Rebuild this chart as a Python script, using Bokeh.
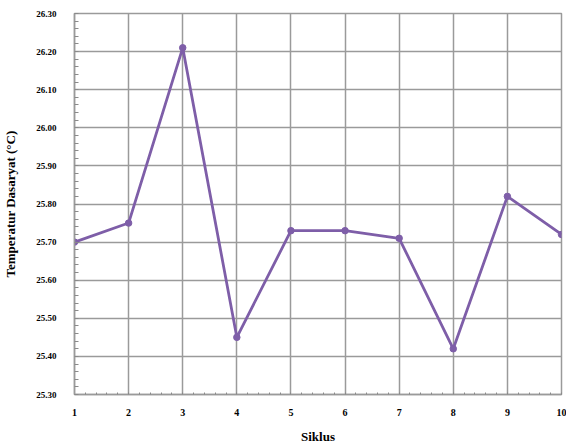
from bokeh.plotting import figure
from bokeh.models import FixedTicker, NumeralTickFormatter, Range1d, ColumnDataSource
from bokeh.embed import file_html
from bokeh.resources import INLINE

siklus = [1, 2, 3, 4, 5, 6, 7, 8, 9, 10]
temperatur = [25.70, 25.75, 26.21, 25.45, 25.73, 25.73, 25.71, 25.42, 25.82, 25.72]
y_ticks = [25.30, 25.40, 25.50, 25.60, 25.70, 25.80, 25.90, 26.00, 26.10, 26.20, 26.30]
y_minor = [round(25.30 + 0.02 * i, 2) for i in range(51)]
x_minor = [round(1 + 0.2 * i, 1) for i in range(46)]

src = ColumnDataSource(dict(x=siklus, y=temperatur))

p = figure(width=566, height=446, output_backend="svg", toolbar_location=None,
           x_range=Range1d(1, 10), y_range=Range1d(25.30, 26.30),
           min_border_left=4, min_border_right=5, min_border_top=13, min_border_bottom=4)

line_color = "#7e5ea8"
p.line("x", "y", source=src, line_color=line_color, line_width=2.8)
p.scatter("x", "y", source=src, size=6.5, fill_color=line_color, line_color=line_color)

font = "Liberation Serif"
grid_color = "#9a9a9a"

p.xaxis.ticker = FixedTicker(ticks=siklus, minor_ticks=x_minor)
p.yaxis.ticker = FixedTicker(ticks=y_ticks, minor_ticks=y_minor)
p.yaxis.formatter = NumeralTickFormatter(format="0.00")

for ax in (p.xaxis, p.yaxis):
    ax.axis_line_color = grid_color
    ax.axis_line_width = 1.5
    ax.major_tick_line_color = None
    ax.minor_tick_in = 4
    ax.minor_tick_out = 0
    ax.minor_tick_line_color = "#8a8a8a"
    ax.major_label_text_font = font
    ax.major_label_text_font_style = "bold"
    ax.major_label_text_font_size = "9px"
    ax.major_label_text_color = "black"
    ax.axis_label_text_font = font
    ax.axis_label_text_font_style = "bold"
    ax.axis_label_text_font_size = "13px"
    ax.axis_label_text_color = "black"

p.xaxis.minor_tick_in = 2
p.xaxis.axis_label = "Siklus"
p.xaxis.major_label_standoff = 8
p.xaxis.axis_label_standoff = 10
p.xaxis.major_label_text_font_size = "10px"
p.yaxis.axis_label = "Temperatur Dasaryat (°C)"
p.yaxis.major_label_standoff = 12
p.yaxis.axis_label_standoff = 15

p.xgrid.grid_line_color = grid_color
p.ygrid.grid_line_color = grid_color
p.xgrid.grid_line_width = 1.5
p.ygrid.grid_line_width = 1.5
p.outline_line_color = grid_color
p.outline_line_width = 1.5
p.background_fill_color = "white"
p.border_fill_color = "white"

open("out.html", "w").write(file_html(p, INLINE))
